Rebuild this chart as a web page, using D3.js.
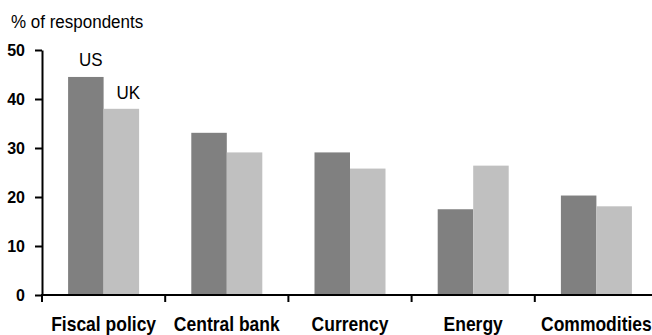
<!DOCTYPE html>
<html>
<head>
<meta charset="utf-8">
<script src="https://cdn.jsdelivr.net/npm/d3@7/dist/d3.min.js"></script>
<style>
  html, body { margin: 0; padding: 0; background: #fff; }
  svg { display: block; }
  text { font-family: "Liberation Sans", Arial, sans-serif; fill: #000; }
</style>
</head>
<body>
<svg id="chart" width="652" height="335"></svg>
<script>
// Share of respondents citing each policy area, US vs UK
const categories = ["Fiscal policy", "Central bank", "Currency", "Energy", "Commodities"];
const seriesNames = ["US", "UK"];
const usValues = [44.5, 33.1, 29.1, 17.5, 20.3];
const ukValues = [38.0, 29.1, 25.8, 26.4, 18.1];
const yTicks = [0, 10, 20, 30, 40, 50];
const seriesColors = ["#808080", "#c0c0c0"];

const svg = d3.select("#chart");
const width = 652, height = 335;
const margin = { left: 42, top: 50, bottom: 40 };
const plotRight = 658;
const y0 = 295;
const stretch = 1.12; // slightly tall lettering

const x = d3.scaleBand()
  .domain(categories)
  .range([margin.left, plotRight])
  .paddingInner(0)
  .paddingOuter(0);

const x1 = d3.scaleBand()
  .domain(seriesNames)
  .range([0, x.bandwidth()])
  .paddingInner(0)
  .paddingOuter(0.735);

const y = d3.scaleLinear()
  .domain([0, 50])
  .range([y0, margin.top]);

const rows = categories.map((c, i) => ({ category: c, values: [usValues[i], ukValues[i]] }));

// Places a text node at (px, py) with a vertical stretch around its baseline
function placeText(sel, px, py) {
  return sel.attr("transform", (d, i) => {
    const X = typeof px === "function" ? px(d, i) : px;
    const Y = typeof py === "function" ? py(d, i) : py;
    return `translate(${X},${Y}) scale(1,${stretch})`;
  });
}

// Bars
const groups = svg.append("g").selectAll("g")
  .data(rows)
  .join("g")
  .attr("transform", d => `translate(${x(d.category)},0)`);

groups.selectAll("rect")
  .data(d => d.values.map((v, j) => ({ name: seriesNames[j], value: v, j })))
  .join("rect")
  .attr("x", d => x1(d.name))
  .attr("width", x1.bandwidth())
  .attr("y", d => y(d.value))
  .attr("height", d => y(0) - y(d.value))
  .attr("fill", d => seriesColors[d.j]);

// Y axis
const yAxis = svg.append("g")
  .attr("transform", `translate(${margin.left},0)`)
  .call(d3.axisLeft(y).tickValues(yTicks).tickSize(7).tickPadding(10).tickSizeOuter(0));
yAxis.select(".domain").attr("stroke", "#000").attr("stroke-width", 2);
yAxis.selectAll(".tick line").attr("stroke", "#000").attr("stroke-width", 2);
yAxis.selectAll(".tick text")
  .style("font-family", "'Liberation Sans', Arial, sans-serif")
  .style("font-size", "16px")
  .style("font-weight", "bold")
  .attr("fill", "#000");

// X axis: line across the plot with ticks at band edges
const xAxisG = svg.append("g");
xAxisG.append("line")
  .attr("x1", margin.left - 1).attr("x2", width)
  .attr("y1", y0).attr("y2", y0)
  .attr("stroke", "#000").attr("stroke-width", 2);
xAxisG.selectAll("line.edge")
  .data(categories)
  .join("line")
  .attr("class", "edge")
  .attr("x1", d => x(d)).attr("x2", d => x(d))
  .attr("y1", y0).attr("y2", y0 + 7)
  .attr("stroke", "#000").attr("stroke-width", 2);
xAxisG.selectAll("text")
  .data(categories)
  .join("text")
  .attr("text-anchor", "middle")
  .style("font-size", "17.5px")
  .style("font-weight", "bold")
  .text(d => d)
  .call(placeText, d => x(d) + x.bandwidth() / 2, 331);

// Series labels above the first group
const first = rows[0];
svg.append("text")
  .attr("text-anchor", "middle")
  .style("font-size", "17px")
  .text("US")
  .call(placeText, x(first.category) + x1("US") + x1.bandwidth() / 2 + 5, y(first.values[0]) - 11);
svg.append("text")
  .attr("text-anchor", "middle")
  .style("font-size", "17px")
  .text("UK")
  .call(placeText, x(first.category) + x1("UK") + x1.bandwidth() / 2 + 7, y(first.values[1]) - 10);

// Unit label
svg.append("text")
  .style("font-size", "17px")
  .text("% of respondents")
  .call(placeText, 11, 28);
</script>
</body>
</html>
